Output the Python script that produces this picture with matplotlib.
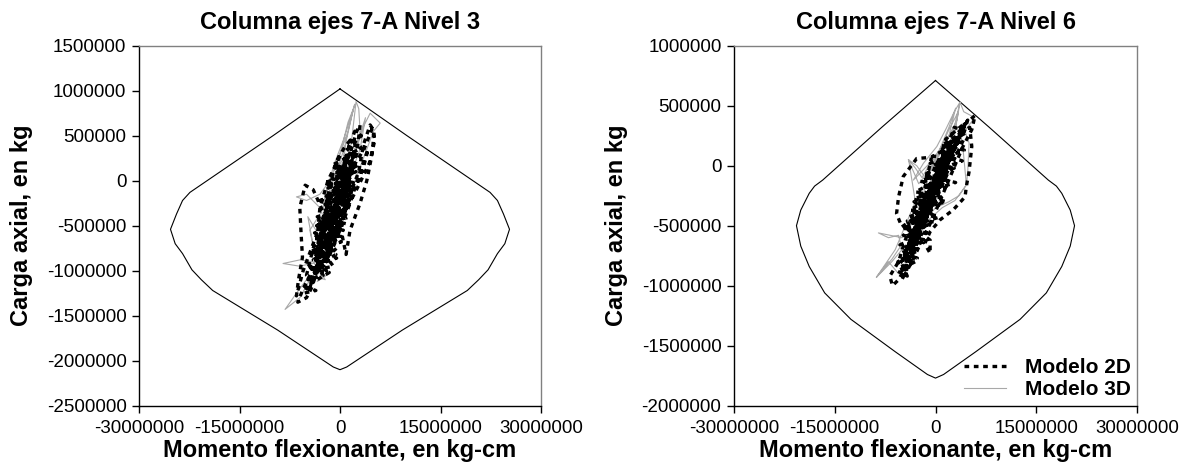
import matplotlib
matplotlib.use("Agg")
import matplotlib.pyplot as plt
import numpy as np

plt.rcParams['font.family'] = ['Liberation Sans', 'DejaVu Sans']

M = 1e6  # values below are read in millions (kg-cm / kg)

# ---- interaction diagram, Nivel 3 (right half, mirrored for left half)
env3_m = [0.0, 10.0, 22.4, 23.5, 24.4, 25.3, 24.6, 23.5, 22.1, 20.7, 19.0, 9.3, 1.0, 0.0]
env3_p = [1.02, 0.50, -0.13, -0.22, -0.37, -0.54, -0.70, -0.81, -0.99, -1.10, -1.22, -1.66, -2.07, -2.10]

# ---- interaction diagram, Nivel 6
env6_m = [0.0, 8.0, 16.8, 18.0, 18.8, 20.06, 20.7, 20.06, 18.8, 16.5, 12.6, 6.0, 1.2, 0.0]
env6_p = [0.71, 0.32, -0.12, -0.17, -0.23, -0.37, -0.50, -0.67, -0.84, -1.06, -1.28, -1.55, -1.74, -1.77]

# ---- Nivel 3, Modelo 2D
n3_2d_m = [0.0, -1.5, -3.0, -4.2, -5.0, -4.0, -2.5, -0.5, 1.0, 2.0, 1.0, -0.5, -2.0, -3.5,
           -5.5, -6.3, -5.0, -4.3, -3.6, -2.0, 0.0, 1.5, 2.8, 3.5, 4.5, 5.1, 4.8, 4.0, 3.0,
           1.5, 0.9, 0.3, -1.0, -2.5, -4.0, -5.2, -6.0, -5.8, -5.6, -6.2, -6.5, -5.5, -4.5,
           -3.0, -1.5, 0.0, 1.5, 2.5, 3.0, 2.5, 1.0, -1.0, -2.5, -3.8, -4.5, -3.5, -2.0, -0.5,
           1.0, 2.5, 3.5, 4.2, 3.0, 1.5, 0.0, -1.5, -2.8, -3.5, -3.0, -1.8, -0.5, 0.5, 1.5,
           0.5, -0.8, -2.0, -3.2, -2.0, -0.8, 0.5, 1.8, 0.5, -1.0, -2.2, -1.0, 0.0,
           -1.0, 1.8, -2.5, 1.2, -3.5, 0.5, -4.0, -0.5, -4.2, -1.0, -3.0, 0.0, -2.0, 1.0,
           -1.2, 1.5, -0.2, 2.0, -2.8, 0.8, -3.8, -0.2, -2.5, -1.5, -3.2, 0.3, -1.8, 1.4,
           -0.6, 2.2, 0.6, 3.6, 4.8, 5.2, 4.4, 2.8, 0.4, -1.6, -3.4, -4.6, -5.4,
           -3.6, -5.2, -1.6, -4.3, -0.6, -3.8, 0.2, -3.3, 0.9, -2.8, 1.4, -2.2, 2.0, -1.2,
           2.9, 0.2, 3.4, 1.5,
           2.2, 3.2, 0.8, 2.4, -0.6, 1.8, -1.8, 1.2, -2.6, 0.6, -3.1, -0.3, -3.6, -1.0,
           -4.0, -2.2, -4.8,
           -2.5, -3.5, -1.8, -3.0, -1.2, -2.5, -0.5, -2.0, 0.0, -1.5, 0.5, -0.5, 1.0,
           1.5, 0.0, 0.6, -1.0, -0.2, -1.6, -0.8, -2.0,
           -3.0, -1.5, -3.3, -0.8, -2.8, 0.0, -2.4, 0.8, -1.6, 1.4, -0.6, 2.0, 0.6, 2.6,
           2.2, -1.0, 2.4, -2.2, 1.9, -3.0, 1.5, -3.4, 1.0, -3.8, 0.2, -4.2, -0.5, -4.5, -2.0,
           -2.4, -3.2, -1.4, -2.6, -1.0, -2.2, -0.2, -1.4, 0.2, -0.8, 1.0, 0.4, 1.6]
n3_2d_p = [-0.30, -0.55, -0.85, -1.10, -1.05, -0.75, -0.45, -0.10, 0.15, 0.25, -0.05, -0.35,
           -0.65, -0.90, -1.20, -1.35, -1.30, -1.20, -1.05, -0.80, -0.45, -0.15, 0.10, 0.40,
           0.62, 0.55, 0.30, 0.00, -0.25, -0.55, -0.82, -0.60, -0.50, -0.35, -0.10, -0.05,
           -0.30, -0.60, -0.85, -1.10, -1.28, -1.00, -0.80, -0.50, -0.20, 0.05, 0.30, 0.55,
           0.62, 0.30, 0.00, -0.30, -0.60, -0.95, -1.20, -1.00, -0.70, -0.40, -0.20, -0.05,
           0.15, 0.35, 0.10, -0.25, -0.55, -0.80, -1.00, -0.70, -0.30, 0.00, 0.20, 0.35,
           0.45, 0.10, -0.20, -0.45, -0.65, -0.90, -0.70, -0.40, -0.10, -0.25, -0.60, -0.30,
           0.10, 0.30, 0.10, 0.05, -0.20, -0.30, -0.50, -0.55, -0.80, -0.75, -1.00, -0.95,
           -0.75, -0.45, -0.55, -0.15, -0.35, -0.05, -0.25, 0.15, -0.60, -0.30, -0.85, -0.55,
           -0.90, -0.75, -0.70, -0.35, -0.45, 0.00, -0.20, 0.20, 0.00, 0.35, 0.58, 0.45, 0.20,
           -0.05, -0.40, -0.65, -0.95, -1.15, -1.25,
           -1.22, -1.18, -1.02, -0.98, -0.82, -0.78, -0.62, -0.58, -0.42, -0.38, -0.22, -0.18,
           -0.02, 0.02, 0.18, 0.22, 0.38, 0.40,
           0.55, 0.50, 0.32, 0.28, 0.12, 0.08, -0.08, -0.12, -0.28, -0.32, -0.48, -0.52,
           -0.68, -0.72, -0.88, -0.92, -1.10,
           -1.05, -0.95, -0.85, -0.75, -0.65, -0.55, -0.45, -0.35, -0.25, -0.15, -0.05, 0.05,
           0.25, 0.20, 0.10, -0.05, -0.20, -0.30, -0.45, -0.55, -0.80,
           -0.85, -0.80, -0.65, -0.60, -0.45, -0.40, -0.25, -0.22, -0.05, -0.02, 0.12, 0.16,
           0.26, 0.34,
           0.30, 0.18, 0.10, -0.02, -0.10, -0.22, -0.30, -0.40, -0.48, -0.58, -0.68, -0.78,
           -0.86, -0.96, -1.00,
           -0.98, -0.92, -0.75, -0.70, -0.55, -0.50, -0.35, -0.30, -0.18, -0.08, 0.02, 0.14,
           0.38]

# ---- Nivel 3, Modelo 3D
n3_3d_m = [-1.0, 0.5, 1.5, 2.4, 2.8, 3.0, 2.0, 0.5, -1.0, -2.5, -3.5, -2.0, 0.0, 2.0, 3.5,
           4.5, 6.0, 5.0, 3.5, 2.0, 0.0, -2.0, -3.0, -4.5, -6.0, -8.2, -6.5, -4.5, -2.2, -3.0,
           -4.0, -6.0, -8.5, -6.0, -3.0, -1.5, -3.0, -5.0, -6.5, -5.0, -3.0, -1.0, 0.5, 1.0,
           0.5, -0.5, -1.5, 0.0, 1.5, 3.0, 3.8, 2.5, 1.0, -0.5, -2.0, -2.5, -1.0, 0.0, 1.2,
           -2.0, -0.8, 0.5, 1.6, 2.2, 1.2, -0.2, -1.5, -2.5, -1.2, 0.2, 1.2, 2.0, 0.8, -0.5,
           -2.8, -4.5, -3.8, -4.8, -3.2, -2.6, -3.4, -2.0]
n3_3d_p = [-0.40, 0.00, 0.30, 0.88, 0.80, 0.55, 0.30, 0.00, -0.30, -0.60, -0.85, -0.60, -0.20,
           0.25, 0.60, 0.75, 0.64, 0.55, 0.25, -0.05, -0.40, -0.75, -0.95, -1.10, -1.30, -1.43,
           -1.25, -1.05, -1.10, -1.02, -0.90, -0.88, -0.92, -0.95, -0.90, -0.60, -0.30, -0.15,
           -0.18, -0.22, -0.15, 0.05, 0.25, 0.50, 0.20, -0.10, -0.35, -0.30, 0.05, 0.35, 0.70,
           0.40, 0.10, -0.25, -0.50, -0.30, -0.05, 0.10, 0.30,
           -0.10, 0.20, 0.45, 0.70, 0.85, 0.55, 0.25, 0.00, -0.25, 0.05, 0.35, 0.65, 0.80,
           0.40, 0.10, -0.35, -0.55, -0.80, -0.40, -0.60, -1.00, -1.12, -1.05]

# ---- Nivel 6, Modelo 2D
n6_2d_m = [0.0, -1.5, -3.0, -4.5, -5.5, -6.4, -6.8, -5.5, -4.5, -3.0, -1.5, 0.0, 1.5, 3.0,
           4.5, 5.9, 5.4, 4.0, 2.5, 1.0, -0.5, -2.0, -3.5, -5.0, -4.3, -3.0, -2.0, -0.6, -2.8,
           -4.8, -5.5, -5.8, -5.0, -3.5, -2.0, -0.5, 1.0, 2.6, 3.6, 5.1, 5.4, 5.0, 4.6, 4.4,
           2.6, 0.7, -0.8, -1.6, -0.8, -0.8, -2.5, -4.0, -5.3, -4.8, -3.5, -1.5, 0.5, 2.0,
           3.5, 2.0, 0.0, -1.8, -3.5, -4.5, -3.0, -1.0, 1.0, 2.8, 4.2, 3.0, 1.2, -0.8, -2.8,
           -4.2, -5.0, -3.8, -2.2, -0.3, 1.8, 3.8, 4.8, 3.2, 1.0, -1.2, -3.2, -4.6, -2.5,
           -0.5, 1.5, -0.5, -2.0, -3.6, -1.8, 0.2, 2.2, 0.8, -1.0, -2.6, -4.0, -2.8, -1.0,
           0.6, -1.4, -3.2, -0.2, 1.5, 3.0, 1.0, -0.8, -2.0,
           2.8, 4.8, 0.8, 4.3, -0.8, 2.8, -2.3, 1.8, -3.3, 0.8, -4.1, -0.2, -4.8, -1.4, -5.1,
           -2.7, -5.6, -4.2,
           -5.0, -3.0, -4.6, -0.8, -3.8, 0.4, -3.0, 1.5, -1.8, 2.5, -0.4, 3.6, 1.5, 4.5,
           2.0, 0.5, 1.2, -1.0, 0.0, -2.2, -1.0, -3.2, -2.0, -4.0, -3.0, -4.8,
           4.2, 0.5, 4.0, -1.8, 3.0, -2.6, 1.6, -3.8, 0.5, -4.8, -1.4, -5.3, -2.4, -5.6, -4.4,
           -4.0, -3.0, -4.2, -0.6, -3.2, 0.8, -2.0, 2.0, -0.4, 3.0, 1.0, 4.0,
           2.2, 1.5, 0.0, 0.6, -1.4, -0.6, -2.6, -1.6, -3.6, -2.8, -4.6]
n6_2d_p = [-0.25, -0.45, -0.65, -0.85, -0.95, -1.00, -0.92, -0.80, -0.62, -0.40, -0.20, 0.00,
           0.15, 0.25, 0.35, 0.42, 0.30, 0.15, -0.05, -0.25, -0.45, -0.62, -0.80, -0.95, -0.87,
           -0.55, -0.30, 0.07, 0.06, -0.09, -0.26, -0.40, -0.51, -0.45, -0.35, -0.15, 0.05,
           0.21, 0.27, 0.32, 0.16, -0.05, -0.17, -0.26, -0.37, -0.45, -0.55, -0.65, -0.73,
           -0.62, -0.55, -0.70, -0.82, -0.90, -0.75, -0.45, -0.20, 0.05, 0.20, 0.10, -0.15,
           -0.40, -0.60, -0.72, -0.55, -0.30, -0.05, 0.15, 0.30, 0.22, -0.05, -0.30, -0.52,
           -0.68, -0.80, -0.70, -0.45, -0.20, 0.05, 0.28, 0.38, 0.20, -0.10, -0.35, -0.58,
           -0.75, -0.55, -0.30, -0.05, -0.20, -0.40, -0.58, -0.45, -0.15, 0.12, -0.02, -0.28,
           -0.45, -0.65, -0.55, -0.35, -0.12, -0.25, -0.48, -0.35, -0.05, 0.18, 0.00, -0.20,
           -0.40,
           0.32, 0.28, 0.17, 0.13, 0.02, -0.02, -0.13, -0.17, -0.28, -0.32, -0.43, -0.47,
           -0.58, -0.62, -0.73, -0.77, -0.88, -0.92,
           -0.82, -0.68, -0.52, -0.38, -0.37, -0.23, -0.22, -0.08, -0.08, 0.06, 0.08, 0.20,
           0.22, 0.36,
           0.12, -0.05, -0.12, -0.22, -0.30, -0.40, -0.48, -0.58, -0.62, -0.70, -0.80, -0.85,
           0.22, 0.10, 0.04, -0.08, -0.14, -0.24, -0.30, -0.38, -0.43, -0.52, -0.56, -0.66,
           -0.70, -0.80, -0.84,
           -0.72, -0.60, -0.46, -0.40, -0.30, -0.26, -0.14, -0.06, 0.00, 0.10, 0.14, 0.25,
           0.20, 0.04, -0.04, -0.16, -0.22, -0.32, -0.42, -0.48, -0.58, -0.64, -0.74]

# ---- Nivel 6, Modelo 3D
n6_3d_m = [-1.0, 1.0, 2.5, 3.65, 4.2, 5.2, 5.8, 4.5, 3.0, 1.5, -0.5, -2.0, -3.5, -5.0, -8.5,
           -7.0, -5.5, -5.0, -6.5, -8.8, -6.0, -4.5, -3.0, -4.0, -3.0, -2.0, -0.5, 1.5, 3.0,
           4.0, 4.6, 3.5, 2.0, 0.0, -1.5, -3.0, -2.0, 0.0, 2.0, 3.4, 2.5, 0.8, -1.0, -2.5,
           -1.2, 0.5,
           -3.3, -1.8, 0.2, 1.5, 2.8, 3.65, 3.2, 1.8, 0.5, -1.0, -2.5, -4.05, -2.8, -1.5, 0.5,
           2.0, 3.0, 2.0, 4.0, 5.0, 4.8, 4.6, 2.9, 1.0, -1.0, -3.0, -4.5, -5.3, -6.5, -8.8,
           -7.0, -5.5]
n6_3d_p = [-0.30, 0.00, 0.25, 0.53, 0.45, 0.42, 0.40, 0.30, 0.15, 0.05, -0.15, -0.35, -0.55,
           -0.60, -0.56, -0.60, -0.58, -0.70, -0.80, -0.93, -0.70, -0.50, -0.30, 0.05, -0.02,
           -0.10, 0.05, 0.20, 0.35, 0.20, -0.16, -0.25, -0.30, -0.35, -0.45, -0.50, -0.20,
           0.05, 0.30, 0.45, 0.15, -0.05, -0.25, -0.40, -0.10, 0.10,
           -0.12, 0.02, 0.16, 0.30, 0.45, 0.53, 0.38, 0.22, 0.08, -0.05, -0.15, 0.05, 0.00,
           -0.10, 0.12, 0.32, 0.48, 0.25, 0.35, 0.19, -0.05, -0.16, -0.29, -0.35, -0.45,
           -0.60, -0.75, -0.68, -0.78, -0.93, -0.80, -0.90]

x_ticks = [-30e6, -15e6, 0, 15e6, 30e6]
x_ticklabels = ['-30000000', '-15000000', '0', '15000000', '30000000']
y3_ticks = [-2500000, -2000000, -1500000, -1000000, -500000, 0, 500000, 1000000, 1500000]
y6_ticks = [-2000000, -1500000, -1000000, -500000, 0, 500000, 1000000]


def mirror(m, p):
    m = np.asarray(m) * M
    p = np.asarray(p) * M
    return np.concatenate([m, -m[::-1]]), np.concatenate([p, p[::-1]])


def style(ax, yticks, ylim, title):
    ax.set_xlim(-30e6, 30e6)
    ax.set_ylim(*ylim)
    ax.set_xticks(x_ticks)
    ax.set_xticklabels(x_ticklabels)
    ax.set_yticks(yticks)
    ax.set_yticklabels([str(v) for v in yticks])
    ax.tick_params(direction='out', length=5, width=1, labelsize=13.5)
    ax.tick_params(axis='x', pad=5)
    ax.tick_params(axis='y', pad=4)
    for s in ['top', 'right']:
        ax.spines[s].set_color('#808080')
    for s in ax.spines.values():
        s.set_linewidth(1)
    ax.set_title(title, fontsize=17, fontweight='bold', pad=12)
    ax.set_xlabel('Momento flexionante, en kg-cm', fontsize=17, fontweight='bold', labelpad=2)
    ax.set_ylabel('Carga axial, en kg', fontsize=17, fontweight='bold', labelpad=10)


fig = plt.figure(figsize=(11.88, 4.69), dpi=100)
ax1 = fig.add_axes([139 / 1188, 63.3 / 469, 402 / 1188, 360 / 469])
ax2 = fig.add_axes([734 / 1188, 63.3 / 469, 403 / 1188, 360 / 469])

dash = (0, (1.4, 1.4))
gray = '#a8a8a8'

em, ep = mirror(env3_m, env3_p)
ax1.plot(em, ep, color='black', lw=0.8)
ax1.plot(np.array(n3_3d_m) * M, np.array(n3_3d_p) * M, color=gray, lw=0.8, zorder=2)
ax1.plot(np.array(n3_2d_m) * M, np.array(n3_2d_p) * M, color='black', lw=2.4, linestyle=dash,
         zorder=3)
style(ax1, y3_ticks, (-2500000, 1500000), 'Columna ejes 7-A Nivel 3')

em, ep = mirror(env6_m, env6_p)
ax2.plot(em, ep, color='black', lw=0.8)
l3d, = ax2.plot(np.array(n6_3d_m) * M, np.array(n6_3d_p) * M, color=gray, lw=0.8, zorder=2,
                label='Modelo 3D')
l2d, = ax2.plot(np.array(n6_2d_m) * M, np.array(n6_2d_p) * M, color='black', lw=2.4,
                linestyle=dash, zorder=3, label='Modelo 2D')
style(ax2, y6_ticks, (-2000000, 1000000), 'Columna ejes 7-A Nivel 6')
ax2.legend([l2d, l3d], ['Modelo 2D', 'Modelo 3D'], loc='lower right', frameon=False,
           prop={'weight': 'bold', 'size': 15}, handlelength=2.0, handletextpad=0.9,
           labelspacing=0.15, borderpad=0.2, borderaxespad=0.1)

fig.savefig('out.png', dpi=100)
